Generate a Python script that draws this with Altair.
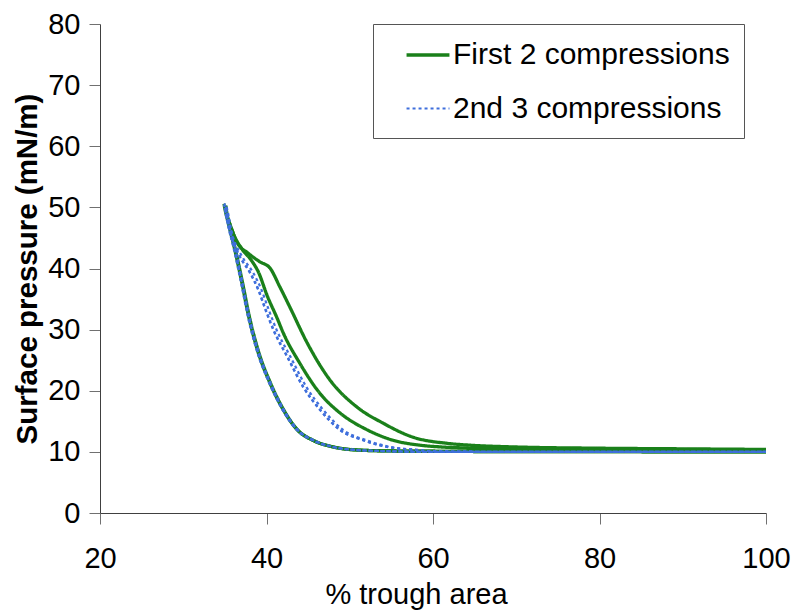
import altair as alt
import pandas as pd

SERIES = ["First 2 compressions", "2nd 3 compressions"]
GREEN = "#1a801a"
BLUE = "#3f6fdc"
FONT = "Liberation Sans"

X_TICKS = [20, 40, 60, 80, 100]
Y_TICKS = [0, 10, 20, 30, 40, 50, 60, 70, 80]

# ---- First 2 compressions (green) ----
g_comp1_x = [100, 90, 80, 70, 64.4, 61.7, 57.6, 54.0, 50.9, 47.6, 44.9, 42.8, 41.6, 40.4, 39.2, 37.8, 36.5, 35.6, 34.9]
g_comp1_y = [10.4, 10.5, 10.6, 10.8, 11.1, 11.4, 12.4, 14.7, 17.3, 21.8, 27.8, 33.7, 37.0, 40.1, 41.1, 42.5, 44.2, 47.3, 50.6]
g_exp1_x = [34.9, 35.4, 36.2, 37.05, 37.8, 38.9, 40.4, 42.0, 43.7, 45.6, 48.0, 50.9, 55, 60, 70, 80, 90, 100]
g_exp1_y = [50.6, 47.5, 43.0, 37.6, 32.5, 26.7, 21.3, 16.9, 13.6, 11.9, 10.8, 10.3, 10.15, 10.1, 10.05, 10.05, 10.0, 10.0]
g_comp2_x = [100, 90, 80, 70, 65, 61, 58.4, 55.2, 52.1, 48.8, 46.4, 44.0, 42.0, 41.3, 40.1, 39.0, 38.2, 37.0, 36.0, 35.1]
g_comp2_y = [10.1, 10.2, 10.3, 10.4, 10.6, 10.8, 11.1, 11.9, 13.6, 16.4, 19.6, 24.5, 29.5, 31.8, 35.5, 39.5, 41.3, 43.3, 45.8, 50.3]
g_exp2_x = [35.1, 35.5, 36.3, 37.15, 37.9, 39.0, 40.5, 42.1, 43.8, 45.7, 48.1, 51.0, 55, 60, 70, 80, 90, 100]
g_exp2_y = [50.3, 47.3, 42.9, 37.5, 32.4, 26.6, 21.2, 16.8, 13.5, 11.8, 10.8, 10.3, 10.15, 10.1, 10.05, 10.05, 10.0, 10.0]

# ---- 2nd 3 compressions (blue) ----
b_comp_y = [10.0, 10.0, 10.0, 10.1, 10.3, 10.8, 11.9, 13.6, 16.9, 20.6, 25.5, 30.0, 33.5, 36.5, 39.3, 41.9, 45.0, 50.5]
b_comp1_x = [100, 80, 70, 60, 58.0, 54.5, 51.6, 48.8, 46.4, 44.4, 42.5, 40.8, 39.8, 39.0, 38.0, 36.8, 35.8, 34.9]
b_comp2_x = [100, 80, 70, 60, 58.4, 54.9, 52.0, 49.2, 46.8, 44.8, 42.9, 41.2, 40.2, 39.4, 38.4, 37.1, 36.0, 35.0]
b_comp3_x = [100, 80, 70, 60, 58.05, 54.55, 51.65, 48.85, 46.45, 44.45, 42.55, 40.85, 39.85, 39.05, 38.05, 36.85, 35.85, 34.9]
b_exp_y = [50.5, 47.5, 43.0, 37.6, 32.5, 26.7, 21.3, 16.9, 13.6, 11.9, 10.8, 10.3, 10.1, 10.0, 10.0, 10.0, 10.0, 10.0]
b_exp1_x = [34.9, 35.3, 36.1, 36.95, 37.7, 38.8, 40.3, 41.9, 43.6, 45.5, 47.9, 50.8, 55, 60, 70, 80, 90, 100]
b_exp2_x = [34.9, 35.4, 36.2, 37.05, 37.8, 38.9, 40.4, 42.0, 43.7, 45.6, 48.0, 50.9, 55, 60, 70, 80, 90, 100]
b_exp3_x = [35.0, 35.5, 36.3, 37.15, 37.9, 39.0, 40.5, 42.1, 43.8, 45.7, 48.1, 51.0, 55, 60, 70, 80, 90, 100]

rows = []


def add_cycle(series, cycle, cx, cy, ex, ey):
    xs = list(cx) + list(ex)
    ys = list(cy) + list(ey)
    for i, (a, p) in enumerate(zip(xs, ys)):
        rows.append({"series": series, "cycle": cycle, "idx": i, "area": a, "pressure": p})


add_cycle(SERIES[0], "g1", g_comp1_x, g_comp1_y, g_exp1_x, g_exp1_y)
add_cycle(SERIES[0], "g2", g_comp2_x, g_comp2_y, g_exp2_x, g_exp2_y)
add_cycle(SERIES[1], "b1", b_comp1_x, b_comp_y, b_exp1_x, b_exp_y)
add_cycle(SERIES[1], "b2", b_comp2_x, b_comp_y, b_exp2_x, b_exp_y)
add_cycle(SERIES[1], "b3", b_comp3_x, b_comp_y, b_exp3_x, b_exp_y)

df = pd.DataFrame(rows)

x_enc = alt.X(
    "area:Q",
    scale=alt.Scale(domain=[20, 100], nice=False, zero=False),
    axis=alt.Axis(
        values=X_TICKS, title="% trough area", grid=False, labelFlush=False,
        labelFontSize=29, labelPadding=20, tickSize=11,
        titleFontSize=29, titleFontWeight="normal", titlePadding=7, titleX=316,
    ),
)
y_enc = alt.Y(
    "pressure:Q",
    scale=alt.Scale(domain=[0, 80], nice=False),
    axis=alt.Axis(
        values=Y_TICKS, title="Surface pressure (mN/m)", grid=False, labelFlush=False,
        labelFontSize=29, labelPadding=9, tickSize=11,
        titleFontSize=29.5, titleFontWeight="bold", titlePadding=5,
    ),
)
color_enc = alt.Color("series:N", scale=alt.Scale(domain=SERIES, range=[GREEN, BLUE]), title=None)
dash_enc = alt.StrokeDash("series:N", scale=alt.Scale(domain=SERIES, range=[[1, 0], [3, 3]]), title=None)
width_enc = alt.StrokeWidth("series:N", scale=alt.Scale(domain=SERIES, range=[3.3, 2.2]), title=None)

base = alt.Chart(df).mark_line(interpolate="monotone").encode(
    x=x_enc, y=y_enc, color=color_enc, strokeDash=dash_enc, strokeWidth=width_enc,
    detail="cycle:N", order="idx:Q",
)

green = base.transform_filter(alt.datum.series == SERIES[0])
blue = base.transform_filter(alt.datum.series == SERIES[1])

chart = alt.layer(green, blue).properties(
    width=666, height=489,
    padding={"left": 100, "top": 24, "right": 26, "bottom": 97},
    autosize="none",
).configure_view(stroke=None).configure_axis(
    domainColor="#404040", tickColor="#707070", labelColor="black", titleColor="black",
    labelFont=FONT, titleFont=FONT,
).configure_legend(
    orient="none", legendX=273, legendY=0, padding=14,
    strokeColor="#555555", fillColor="white",
    labelFont=FONT, labelFontSize=30, labelColor="black", labelLimit=500,
    symbolType="M-1.43,0H1.43", symbolSize=900, symbolOffset=24, labelOffset=8,
    rowPadding=22,
)

chart.save("out.html", embed_options={"renderer": "svg", "actions": False})
